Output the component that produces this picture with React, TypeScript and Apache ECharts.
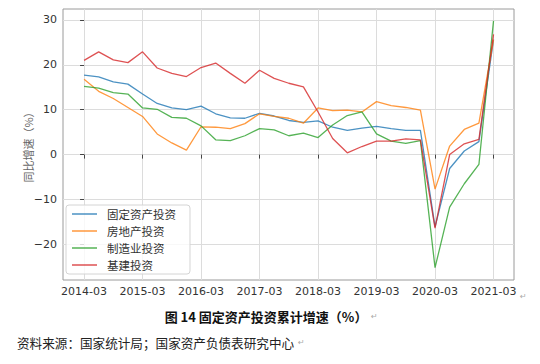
import React, { useEffect, useRef } from "react";
import * as echarts from "echarts";

const quarters = [
  "2014-03", "2014-06", "2014-09", "2014-12",
  "2015-03", "2015-06", "2015-09", "2015-12",
  "2016-03", "2016-06", "2016-09", "2016-12",
  "2017-03", "2017-06", "2017-09", "2017-12",
  "2018-03", "2018-06", "2018-09", "2018-12",
  "2019-03", "2019-06", "2019-09", "2019-12",
  "2020-03", "2020-06", "2020-09", "2020-12",
  "2021-03",
];

const fai = [17.7, 17.3, 16.2, 15.7, 13.5, 11.4, 10.4, 10.0, 10.8, 9.1, 8.2, 8.1, 9.2, 8.6, 7.6, 7.2, 7.5, 6.1, 5.4, 5.9, 6.3, 5.8, 5.4, 5.4, -16.1, -3.1, 0.8, 2.9, 25.6];
const realEstate = [16.8, 14.1, 12.5, 10.5, 8.5, 4.6, 2.6, 1.0, 6.2, 6.1, 5.8, 6.9, 9.1, 8.5, 8.1, 7.0, 10.4, 9.8, 9.9, 9.5, 11.8, 10.9, 10.5, 9.9, -7.7, 1.9, 5.6, 7.0, 25.6];
const manufacturing = [15.2, 14.8, 13.8, 13.5, 10.4, 10.1, 8.3, 8.1, 6.4, 3.3, 3.1, 4.2, 5.8, 5.5, 4.2, 4.8, 3.8, 6.6, 8.7, 9.5, 4.6, 3.0, 2.5, 3.1, -25.2, -11.7, -6.5, -2.2, 29.8];
const infrastructure = [21.0, 22.9, 21.1, 20.5, 22.9, 19.3, 18.1, 17.4, 19.4, 20.4, 18.1, 15.9, 18.8, 17.0, 15.9, 15.1, 9.5, 3.6, 0.4, 1.8, 3.0, 3.0, 3.5, 3.3, -16.4, 0.0, 2.4, 3.4, 26.8];

const seriesNames = ["固定资产投资", "房地产投资", "制造业投资", "基建投资"];
const seriesValues = [fai, realEstate, manufacturing, infrastructure];
const seriesColors = ["#1f77b4", "#ff7f0e", "#2ca02c", "#d62728"];

const xTickIdx = [0, 4, 8, 12, 16, 20, 24, 28];
const yTicks = [-20, -10, 0, 10, 20, 30];

const tickFont = "DejaVu Sans";
const cjkFont = "Noto Sans CJK SC";

export default function App() {
  const ref = useRef<HTMLDivElement>(null);

  useEffect(() => {
    if (!ref.current) return;
    const chart = echarts.init(ref.current, null, { renderer: "svg" });
    const option: any = {
      animation: false,
      backgroundColor: "#ffffff",
      grid: {
        left: 63,
        right: 26,
        top: 9,
        bottom: 84,
        show: true,
        borderColor: "#9a9a9a",
        borderWidth: 1,
      },
      xAxis: {
        type: "value",
        min: -1.44,
        max: 29.4,
        axisLine: { show: false },
        axisTick: {
          show: true,
          length: 4,
          customValues: xTickIdx,
          lineStyle: { color: "#444", width: 1 },
        },
        axisLabel: {
          customValues: xTickIdx,
          formatter: (v: number) => quarters[Math.round(v)] ?? "",
          fontFamily: tickFont,
          fontSize: 11,
          color: "#333",
          margin: 6,
        },
        splitLine: { show: true, lineStyle: { color: "#dcdcdc", width: 1 } },
      },
      yAxis: {
        type: "value",
        min: -27.95,
        max: 32.45,
        name: "同比增速（%）",
        nameLocation: "middle",
        nameRotate: 90,
        nameGap: 30,
        nameMoveOverlap: false,
        nameTextStyle: { fontFamily: cjkFont, fontSize: 11, color: "#666" },
        axisLine: { show: false },
        axisTick: {
          show: true,
          length: 4,
          customValues: yTicks,
          lineStyle: { color: "#444", width: 1 },
        },
        axisLabel: {
          customValues: yTicks,
          formatter: (v: number) => String(v).replace("-", "\u2212"),
          fontFamily: tickFont,
          fontSize: 11,
          color: "#333",
          margin: 6,
        },
        splitLine: { show: true, lineStyle: { color: "#dcdcdc", width: 1 } },
      },
      legend: {
        orient: "vertical",
        left: 66,
        top: 205,
        icon: "rect",
        itemWidth: 25,
        itemHeight: 1.5,
        itemGap: 3,
        padding: [2, 14, 2, 6],
        backgroundColor: "rgba(255,255,255,0.8)",
        borderColor: "#d4d4d4",
        borderWidth: 1,
        borderRadius: 3,
        textStyle: {
          fontFamily: cjkFont,
          fontSize: 11.5,
          color: "#333",
          lineHeight: 14,
          padding: [0, 0, 0, 5],
        },
        data: seriesNames,
      },
      series: seriesNames.map((name, si) => ({
        name,
        type: "line",
        symbol: "none",
        data: seriesValues[si].map((v, i) => [i, v]),
        lineStyle: { color: seriesColors[si], width: 1.3, opacity: 0.8 },
        itemStyle: { color: seriesColors[si], opacity: 0.8 },
        z: 2 + si,
      })),
      graphic: [
        {
          type: "text",
          left: 520,
          top: 292,
          style: { text: "↵", fontSize: 8, fill: "#aaa", fontFamily: tickFont },
        },
        {
          type: "text",
          x: 266,
          y: 316,
          style: {
            text: "图 14 固定资产投资累计增速（%）",
            fontFamily: cjkFont,
            fontWeight: "bold",
            fontSize: 13,
            fill: "#111",
            textAlign: "center",
            textVerticalAlign: "middle",
          },
        },
        {
          type: "text",
          left: 371,
          top: 312,
          style: { text: "↵", fontSize: 8, fill: "#aaa", fontFamily: tickFont },
        },
        {
          type: "text",
          x: 17,
          y: 342,
          style: {
            text: "资料来源：国家统计局；国家资产负债表研究中心",
            fontFamily: cjkFont,
            fontSize: 12.6,
            fill: "#222",
            textVerticalAlign: "middle",
          },
        },
        {
          type: "text",
          left: 298,
          top: 338,
          style: { text: "↵", fontSize: 8, fill: "#aaa", fontFamily: tickFont },
        },
      ],
    };
    chart.setOption(option);
    return () => chart.dispose();
  }, []);

  return (
    <div
      ref={ref}
      style={{ position: "fixed", left: 0, top: 0, width: 540, height: 364 }}
    />
  );
}
